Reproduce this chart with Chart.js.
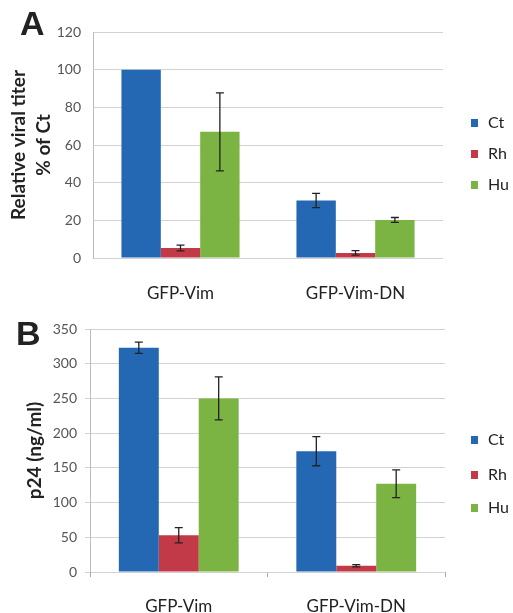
<!DOCTYPE html>
<html>
<head>
<meta charset="utf-8">
<script src="https://cdn.jsdelivr.net/npm/chart.js@4.4.1/dist/chart.umd.min.js"></script>
<style>
  body { margin: 0; background: #fff; width: 513px; height: 613px; position: relative; overflow: hidden; }
  .panel { position: absolute; left: 0; width: 513px; }
  .letter { position: absolute; font: bold 34px "Liberation Sans", Arial, sans-serif; line-height: 34px; color: #222; }
  .legend { position: absolute; font: 16px Lato, sans-serif; color: #222; }
  .legend div { position: absolute; left: 0; white-space: nowrap; line-height: 16px; }
  .legend span { display: inline-block; width: 7px; height: 8px; margin-right: 10px; vertical-align: 1px; }
</style>
</head>
<body>

<div class="panel" style="top:0;height:310px"><canvas id="chartA" width="513" height="310"></canvas></div>
<div class="panel" style="top:310px;height:303px"><canvas id="chartB" width="513" height="303"></canvas></div>
<div class="letter" style="left:20px;top:6px">A</div>
<div class="letter" style="left:16px;top:316px">B</div>
<div class="legend" id="legendA" style="left:471px;top:0"></div>
<div class="legend" id="legendB" style="left:471px;top:310px"></div>

<script>
// data
const categories = ['GFP-Vim', 'GFP-Vim-DN'];
const seriesNames = ['Ct', 'Rh', 'Hu'];
const seriesColors = ['#2468b3', '#c23a47', '#7cb443'];

// panel A: relative viral titer, % of Ct
const titerCt = [100, 30.5];
const titerRh = [5.3, 2.7];
const titerHu = [67, 20.2];
const titerCtErr = [0, 3.8];
const titerRhErr = [1.5, 1.2];
const titerHuErr = [20.7, 1.3];

// panel B: p24 (ng/ml)
const p24Ct = [323, 174];
const p24Rh = [53, 9];
const p24Hu = [250, 127];
const p24CtErr = [8, 21];
const p24RhErr = [11, 1.5];
const p24HuErr = [31, 20];

const errorBars = {
  id: 'errorBars',
  afterDatasetsDraw(chart) {
    const ctx = chart.ctx;
    const y = chart.scales.y;
    chart.data.datasets.forEach((ds, i) => {
      chart.getDatasetMeta(i).data.forEach((bar, j) => {
        const e = ds.errors[j];
        if (!e) return;
        const top = y.getPixelForValue(ds.data[j] + e);
        const bot = y.getPixelForValue(ds.data[j] - e);
        ctx.save();
        ctx.strokeStyle = '#222';
        ctx.lineWidth = 1.3;
        ctx.beginPath();
        ctx.moveTo(bar.x, top); ctx.lineTo(bar.x, bot);
        ctx.moveTo(bar.x - 4, top); ctx.lineTo(bar.x + 4, top);
        ctx.moveTo(bar.x - 4, bot); ctx.lineTo(bar.x + 4, bot);
        ctx.stroke();
        ctx.restore();
      });
    });
  }
};

function makeDatasets(values, errors) {
  return seriesNames.map((name, i) => ({
    label: name,
    data: values[i],
    errors: errors[i],
    backgroundColor: seriesColors[i],
    borderWidth: 0,
    categoryPercentage: 0.675,
    barPercentage: 1.0
  }));
}

function makeChart(el, cfg) {
  return new Chart(el, {
    type: 'bar',
    data: { labels: categories, datasets: cfg.datasets },
    plugins: [errorBars],
    options: {
      responsive: false,
      animation: false,
      layout: { padding: { top: cfg.top, right: cfg.right, left: 0, bottom: 0 } },
      plugins: { legend: { display: false }, tooltip: { enabled: false } },
      scales: {
        x: {
          afterFit: (s) => { s.height = cfg.xHeight; },
          grid: {
            display: cfg.xTicks,
            drawOnChartArea: false,
            offset: true,
            tickLength: 5,
            color: '#aaa'
          },
          border: { display: false },
          ticks: {
            padding: cfg.xPad,
            color: '#222',
            font: { family: 'Lato', size: 17 }
          }
        },
        y: {
          min: 0,
          max: cfg.max,
          afterFit: (s) => { s.width = cfg.yWidth; },
          ticks: {
            stepSize: cfg.step,
            padding: cfg.yPad,
            color: '#555',
            font: { family: 'Lato', size: 14 }
          },
          grid: {
            color: '#d2d2d2',
            drawTicks: cfg.yTicks,
            tickLength: 5
          },
          border: { display: true, color: '#bdbdbd' },
          title: {
            display: true,
            text: cfg.title,
            color: '#222',
            padding: { top: cfg.titlePad, bottom: 0 },
            font: { family: 'Lato', size: cfg.titleSize, weight: 'bold', lineHeight: '25px' }
          }
        }
      }
    }
  });
}

function makeLegend(el, tops) {
  seriesNames.forEach((name, i) => {
    const row = document.createElement('div');
    row.style.top = tops[i] + 'px';
    row.innerHTML = '<span style="background:' + seriesColors[i] + '"></span>' + name;
    el.appendChild(row);
  });
}

makeChart(document.getElementById('chartA'), {
  datasets: makeDatasets([titerCt, titerRh, titerHu], [titerCtErr, titerRhErr, titerHuErr]),
  max: 120, step: 20,
  top: 32, right: 70, xHeight: 52, yWidth: 93,
  xPad: 20, yPad: 12, xTicks: false, yTicks: false,
  title: ['Relative viral titer', '% of Ct'], titlePad: 6, titleSize: 19
});

makeChart(document.getElementById('chartB'), {
  datasets: makeDatasets([p24Ct, p24Rh, p24Hu], [p24CtErr, p24RhErr, p24HuErr]),
  max: 350, step: 50,
  top: 19, right: 68, xHeight: 41, yWidth: 90,
  xPad: 19, yPad: 8, xTicks: true, yTicks: true,
  title: ['p24 (ng/ml)'], titlePad: 22, titleSize: 19
});

makeLegend(document.getElementById('legendA'), [114, 145, 176]);
makeLegend(document.getElementById('legendB'), [121, 156, 189]);
</script>
</body>
</html>
